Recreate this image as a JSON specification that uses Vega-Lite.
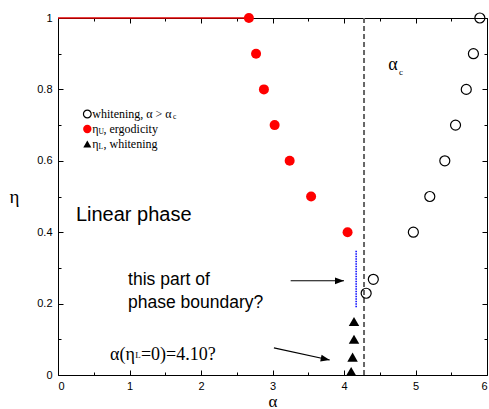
{
  "$schema": "https://vega.github.io/schema/vega-lite/v6.json",
  "width": 429,
  "height": 357,
  "autosize": {"type": "none"},
  "padding": {"left": 58, "top": 18, "right": 2, "bottom": 34},
  "background": "white",
  "config": {
    "view": {"stroke": null},
    "axis": {"domainColor": "#000", "tickColor": "#000", "grid": false, "labelFont": "Liberation Sans", "labelFontSize": 11, "labelColor": "#000", "titleColor": "#000"}
  },
  "datasets": {
    "ergo": [{"alpha": 2.67, "eta": 1}, {"alpha": 2.77, "eta": 0.9}, {"alpha": 2.88, "eta": 0.8}, {"alpha": 3.03, "eta": 0.7}, {"alpha": 3.24, "eta": 0.6}, {"alpha": 3.54, "eta": 0.5}, {"alpha": 4.05, "eta": 0.4}],
    "white": [{"alpha": 5.9, "eta": 1}, {"alpha": 5.81, "eta": 0.9}, {"alpha": 5.71, "eta": 0.8}, {"alpha": 5.56, "eta": 0.7}, {"alpha": 5.41, "eta": 0.6}, {"alpha": 5.2, "eta": 0.5}, {"alpha": 4.97, "eta": 0.4}, {"alpha": 4.41, "eta": 0.268}, {"alpha": 4.31, "eta": 0.229}],
    "low": [{"alpha": 4.14, "eta": 0.15}, {"alpha": 4.14, "eta": 0.1}, {"alpha": 4.12, "eta": 0.05}, {"alpha": 4.1, "eta": 0.01}],
    "topline": [{"alpha": 0, "eta": 1}, {"alpha": 2.67, "eta": 1}],
    "critical": [{"alpha": 4.28, "eta0": 0, "eta1": 1}],
    "boundary": [{"alpha": 4.17, "eta0": 0.19, "eta1": 0.35}],
    "arrows": [{"a0": 3.254, "e0": 0.264, "a1": 4.0, "e1": 0.264, "angle": 0}, {"a0": 3.02, "e0": 0.076, "a1": 3.8, "e1": 0.042, "angle": 12}],
    "sans20": [{"alpha": 0.25, "eta": 0.448, "text": "Linear phase"}],
    "sans17": [{"alpha": 0.98, "eta": 0.266, "text": "this part of"}, {"alpha": 0.98, "eta": 0.201, "text": "phase boundary?"}],
    "serif18": [{"alpha": 0.727, "eta": 0.042, "text": "α(η"}, {"alpha": 1.16, "eta": 0.042, "text": "=0)=4.10?"}],
    "serif9": [{"alpha": 1.08, "eta": 0.047, "text": "L"}],
    "alphac": [{"alpha": 4.62, "eta": 0.854, "text": "α"}],
    "alphacsub": [{"alpha": 4.77, "eta": 0.84, "text": "c"}],
    "legtext": [{"alpha": 0.48, "eta": 0.731, "text": "whitening, α > α"}, {"alpha": 0.48, "eta": 0.689, "text": "η"}, {"alpha": 0.636, "eta": 0.689, "text": ", ergodicity"}, {"alpha": 0.48, "eta": 0.647, "text": "η"}, {"alpha": 0.636, "eta": 0.647, "text": ", whitening"}],
    "legsub": [{"alpha": 1.61, "eta": 0.722, "text": "c"}, {"alpha": 0.567, "eta": 0.68, "text": "U"}, {"alpha": 0.567, "eta": 0.638, "text": "L"}],
    "legopen": [{"alpha": 0.41, "eta": 0.731}],
    "legred": [{"alpha": 0.41, "eta": 0.689}],
    "legtri": [{"alpha": 0.41, "eta": 0.647}]
  },
  "layer": [
    {
      "data": {"name": "topline"},
      "mark": {"type": "line", "color": "#e00000", "strokeWidth": 1.5},
      "encoding": {
        "x": {"field": "alpha", "type": "quantitative", "scale": {"domain": [0, 6], "nice": false},
          "axis": {"orient": "bottom", "values": [0, 1, 2, 3, 4, 5, 6], "tickSize": -5, "labelPadding": 10, "format": "~g", "title": "α", "titleFont": "Liberation Serif", "titleFontSize": 17, "titleFontWeight": "normal", "titleBaseline": "alphabetic", "titleY": 31}},
        "y": {"field": "eta", "type": "quantitative", "scale": {"domain": [0, 1], "nice": false},
          "axis": {"orient": "left", "values": [0, 0.2, 0.4, 0.6, 0.8, 1], "tickSize": -5, "labelPadding": 11, "format": "~g", "title": "η", "titleAngle": 0, "titleFont": "Liberation Serif", "titleFontSize": 19, "titleFontWeight": "normal", "titleX": -44, "titleY": 178, "titleBaseline": "middle", "titleAlign": "center"}}
      }
    },
    {
      "data": {"name": "critical"},
      "mark": {"type": "rule", "color": "#666666", "strokeWidth": 2, "strokeDash": [5, 3]},
      "encoding": {
        "x": {"field": "alpha", "type": "quantitative", "scale": {"domain": [0, 6], "nice": false},
          "axis": {"orient": "top", "values": [0, 1, 2, 3, 4, 5, 6], "tickSize": -5, "labels": false, "title": null}},
        "y": {"field": "eta0", "type": "quantitative", "scale": {"domain": [0, 1], "nice": false},
          "axis": {"orient": "right", "values": [0, 0.2, 0.4, 0.6, 0.8, 1], "tickSize": -5, "labels": false, "title": null}},
        "y2": {"field": "eta1"}
      }
    },
    {
      "data": {"name": "boundary"},
      "mark": {"type": "rule", "color": "#0000ff", "strokeWidth": 1.5, "strokeDash": [1.5, 1]},
      "encoding": {
        "x": {"field": "alpha", "type": "quantitative",
          "axis": {"orient": "bottom", "values": [0.5, 1.5, 2.5, 3.5, 4.5, 5.5], "tickSize": -3, "labels": false, "domain": false, "title": null}},
        "y": {"field": "eta0", "type": "quantitative",
          "axis": {"orient": "left", "values": [0.1, 0.3, 0.5, 0.7, 0.9], "tickSize": -3, "labels": false, "domain": false, "title": null}},
        "y2": {"field": "eta1"}
      }
    },
    {
      "data": {"name": "ergo"},
      "mark": {"type": "point", "shape": "circle", "filled": true, "color": "#ff0000", "opacity": 1, "size": 100},
      "encoding": {
        "x": {"field": "alpha", "type": "quantitative",
          "axis": {"orient": "top", "values": [0.5, 1.5, 2.5, 3.5, 4.5, 5.5], "tickSize": -3, "labels": false, "domain": false, "title": null}},
        "y": {"field": "eta", "type": "quantitative",
          "axis": {"orient": "right", "values": [0.1, 0.3, 0.5, 0.7, 0.9], "tickSize": -3, "labels": false, "domain": false, "title": null}}
      }
    },
    {
      "data": {"name": "white"},
      "mark": {"type": "point", "shape": "circle", "filled": false, "stroke": "#000", "strokeWidth": 1.2, "opacity": 1, "size": 100},
      "encoding": {
        "x": {"field": "alpha", "type": "quantitative", "axis": null},
        "y": {"field": "eta", "type": "quantitative", "axis": null}
      }
    },
    {
      "data": {"name": "low"},
      "mark": {"type": "point", "shape": "triangle-up", "filled": true, "color": "#000", "opacity": 1, "size": 110},
      "encoding": {
        "x": {"field": "alpha", "type": "quantitative", "axis": null},
        "y": {"field": "eta", "type": "quantitative", "axis": null}
      }
    },
    {
      "data": {"name": "arrows"},
      "mark": {"type": "rule", "color": "#000", "strokeWidth": 1.2},
      "encoding": {
        "x": {"field": "a0", "type": "quantitative", "axis": null},
        "x2": {"field": "a1"},
        "y": {"field": "e0", "type": "quantitative", "axis": null},
        "y2": {"field": "e1"}
      }
    },
    {
      "data": {"name": "arrows"},
      "mark": {"type": "point", "shape": "M0,0L-2,-0.75L-2,0.75Z", "filled": true, "color": "#000", "opacity": 1, "size": 81},
      "encoding": {
        "x": {"field": "a1", "type": "quantitative", "axis": null},
        "y": {"field": "e1", "type": "quantitative", "axis": null},
        "angle": {"field": "angle", "type": "quantitative", "scale": null}
      }
    },
    {
      "data": {"name": "sans20"},
      "mark": {"type": "text", "font": "Liberation Sans", "fontSize": 20, "align": "left", "baseline": "middle", "color": "#000"},
      "encoding": {
        "x": {"field": "alpha", "type": "quantitative", "axis": null},
        "y": {"field": "eta", "type": "quantitative", "axis": null},
        "text": {"field": "text"}
      }
    },
    {
      "data": {"name": "sans17"},
      "mark": {"type": "text", "font": "Liberation Sans", "fontSize": 17.5, "align": "left", "baseline": "middle", "color": "#000"},
      "encoding": {
        "x": {"field": "alpha", "type": "quantitative", "axis": null},
        "y": {"field": "eta", "type": "quantitative", "axis": null},
        "text": {"field": "text"}
      }
    },
    {
      "data": {"name": "serif18"},
      "mark": {"type": "text", "font": "Liberation Serif", "fontSize": 18, "align": "left", "baseline": "alphabetic", "color": "#000"},
      "encoding": {
        "x": {"field": "alpha", "type": "quantitative", "axis": null},
        "y": {"field": "eta", "type": "quantitative", "axis": null},
        "text": {"field": "text"}
      }
    },
    {
      "data": {"name": "serif9"},
      "mark": {"type": "text", "font": "Liberation Serif", "fontSize": 9, "align": "left", "baseline": "alphabetic", "color": "#000"},
      "encoding": {
        "x": {"field": "alpha", "type": "quantitative", "axis": null},
        "y": {"field": "eta", "type": "quantitative", "axis": null},
        "text": {"field": "text"}
      }
    },
    {
      "data": {"name": "alphac"},
      "mark": {"type": "text", "font": "Liberation Serif", "fontSize": 18, "align": "left", "baseline": "alphabetic", "color": "#000"},
      "encoding": {
        "x": {"field": "alpha", "type": "quantitative", "axis": null},
        "y": {"field": "eta", "type": "quantitative", "axis": null},
        "text": {"field": "text"}
      }
    },
    {
      "data": {"name": "alphacsub"},
      "mark": {"type": "text", "font": "Liberation Serif", "fontSize": 9, "align": "left", "baseline": "alphabetic", "color": "#000"},
      "encoding": {
        "x": {"field": "alpha", "type": "quantitative", "axis": null},
        "y": {"field": "eta", "type": "quantitative", "axis": null},
        "text": {"field": "text"}
      }
    },
    {
      "data": {"name": "legtext"},
      "mark": {"type": "text", "font": "Liberation Serif", "fontSize": 12, "align": "left", "baseline": "middle", "color": "#000"},
      "encoding": {
        "x": {"field": "alpha", "type": "quantitative", "axis": null},
        "y": {"field": "eta", "type": "quantitative", "axis": null},
        "text": {"field": "text"}
      }
    },
    {
      "data": {"name": "legsub"},
      "mark": {"type": "text", "font": "Liberation Serif", "fontSize": 7.5, "align": "left", "baseline": "middle", "color": "#000"},
      "encoding": {
        "x": {"field": "alpha", "type": "quantitative", "axis": null},
        "y": {"field": "eta", "type": "quantitative", "axis": null},
        "text": {"field": "text"}
      }
    },
    {
      "data": {"name": "legopen"},
      "mark": {"type": "point", "shape": "circle", "filled": false, "stroke": "#000", "strokeWidth": 1.2, "opacity": 1, "size": 60},
      "encoding": {
        "x": {"field": "alpha", "type": "quantitative", "axis": null},
        "y": {"field": "eta", "type": "quantitative", "axis": null}
      }
    },
    {
      "data": {"name": "legred"},
      "mark": {"type": "point", "shape": "circle", "filled": true, "color": "#ff0000", "opacity": 1, "size": 70},
      "encoding": {
        "x": {"field": "alpha", "type": "quantitative", "axis": null},
        "y": {"field": "eta", "type": "quantitative", "axis": null}
      }
    },
    {
      "data": {"name": "legtri"},
      "mark": {"type": "point", "shape": "triangle-up", "filled": true, "color": "#000", "opacity": 1, "size": 65},
      "encoding": {
        "x": {"field": "alpha", "type": "quantitative", "axis": null},
        "y": {"field": "eta", "type": "quantitative", "axis": null}
      }
    }
  ],
  "resolve": {"axis": {"x": "independent", "y": "independent"}}
}
